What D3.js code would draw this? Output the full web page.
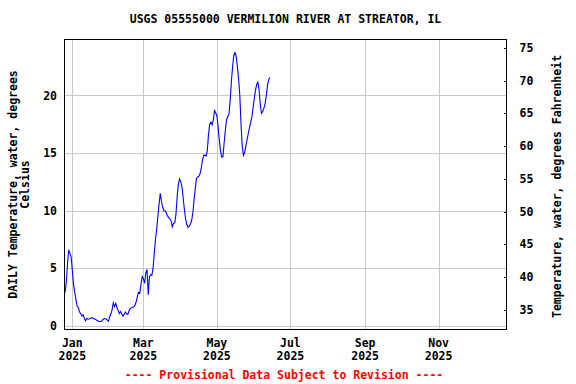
<!DOCTYPE html>
<html>
<head>
<meta charset="utf-8">
<script src="https://cdn.jsdelivr.net/npm/d3@7"></script>
<style>
  body { margin: 0; background: #fff; }
  text { font-family: "DejaVu Sans Mono", "Liberation Mono", monospace; font-weight: bold; font-size: 11.5px; }
</style>
</head>
<body>
<div id="chart"></div>
<script>
// daily water temperature (deg C), first value on 2024-12-26
const startDate = new Date(Date.UTC(2024, 11, 26));
const tempC = [
  2.9, 3.8, 5.4, 6.6, 6.3, 6.0, 4.8, 3.6, 2.9, 2.3,
  1.7, 1.6, 1.2, 1.05, 0.85, 0.97, 0.64, 0.45, 0.65, 0.6,
  0.6, 0.65, 0.73, 0.68, 0.62, 0.58, 0.52, 0.45, 0.38, 0.38,
  0.38, 0.53, 0.6, 0.64, 0.6, 0.5, 0.4, 0.8, 1.05, 1.4,
  2.0, 1.7, 1.95, 1.6, 1.35, 1.08, 1.25, 1.05, 0.85, 1.0,
  1.2, 1.05, 1.0, 1.3, 1.5, 1.57, 1.6, 1.67, 1.8, 2.1,
  2.55, 2.93, 2.85, 3.6, 4.3, 4.1, 3.7, 4.6, 4.9, 2.7,
  4.25, 4.45, 4.4, 5.0, 6.3, 7.5, 8.4, 9.5, 10.6, 11.5,
  10.8, 10.3, 10.0, 10.0, 9.8, 9.55, 9.4, 9.3, 9.1, 8.6,
  8.9, 8.95, 9.7, 11.2, 12.3, 12.75, 12.5, 12.1, 11.1, 10.1,
  9.3, 8.8, 8.55, 8.65, 8.85, 9.15, 9.8, 10.9, 11.9, 12.8,
  12.93, 13.0, 13.2, 13.7, 14.4, 14.8, 14.82, 14.75, 15.2, 16.6,
  17.5, 17.68, 17.45, 17.86, 18.7, 18.5, 18.2, 17.3, 16.1, 15.2,
  14.65, 14.7, 15.9, 17.0, 17.9, 18.15, 18.4, 19.6, 21.2, 22.5,
  23.45, 23.72, 23.4, 22.5, 21.4, 20.0, 17.5, 15.6, 14.8, 15.05,
  15.6, 16.15, 16.7, 17.2, 17.67, 18.12, 18.9, 19.75, 20.45, 20.95,
  21.15, 20.5, 19.2, 18.45, 18.58, 18.9, 19.3, 20.0, 20.9, 21.39,
  21.56
];

const yTicksC = [0, 5, 10, 15, 20];
const yTicksF = [35, 40, 45, 50, 55, 60, 65, 70, 75];
const xTickMonths = [0, 2, 4, 6, 8, 10]; // Jan, Mar, May, Jul, Sep, Nov 2025

const title = 'USGS 05555000 VERMILION RIVER AT STREATOR, IL';
const leftLabel = ['DAILY Temperature, water, degrees', 'Celsius'];
const rightLabel = 'Temperature, water, degrees Fahrenheit';
const footer = '---- Provisional Data Subject to Revision ----';

const width = 576, height = 384;
const plot = { left: 64.5, right: 506.5, top: 39.5, bottom: 329.5 };

const data = tempC.map((v, i) => ({
  date: d3.utcDay.offset(startDate, i),
  value: v
}));

const x = d3.scaleUtc()
  .domain([new Date(Date.UTC(2024, 11, 25, 12)), new Date(Date.UTC(2025, 11, 27, 8))])
  .range([plot.left, plot.right]);

const y = d3.scaleLinear()
  .domain([-0.31, 24.86])
  .range([plot.bottom, plot.top]);

const yF = d3.scaleLinear()
  .domain([32, 76.27])
  .range([plot.bottom, plot.top]);

const svg = d3.select('#chart')
  .append('svg')
  .attr('width', width)
  .attr('height', height);

const xTicks = xTickMonths.map((m) => new Date(Date.UTC(2025, m, 1)));

// grid
const grid = svg.append('g')
  .attr('stroke', '#c8c8c8')
  .attr('stroke-width', 1)
  .attr('shape-rendering', 'crispEdges');

grid.selectAll('.gy')
  .data(yTicksC)
  .join('line')
  .attr('x1', plot.left)
  .attr('x2', plot.right)
  .attr('y1', (d) => Math.round(y(d)) + 0.5)
  .attr('y2', (d) => Math.round(y(d)) + 0.5);

grid.selectAll('.gx')
  .data(xTicks)
  .join('line')
  .attr('x1', (d) => Math.round(x(d)) + 0.5)
  .attr('x2', (d) => Math.round(x(d)) + 0.5)
  .attr('y1', plot.top)
  .attr('y2', plot.bottom);

// data line
const line = d3.line()
  .x((d) => x(d.date))
  .y((d) => y(d.value));

svg.append('path')
  .datum(data)
  .attr('fill', 'none')
  .attr('stroke', '#0000ff')
  .attr('stroke-width', 1.1)
  .attr('d', line);

// frame
svg.append('rect')
  .attr('x', plot.left)
  .attr('y', plot.top)
  .attr('width', plot.right - plot.left)
  .attr('height', plot.bottom - plot.top)
  .attr('fill', 'none')
  .attr('stroke', '#000')
  .attr('shape-rendering', 'crispEdges');

// left axis labels
svg.append('g')
  .selectAll('text')
  .data(yTicksC)
  .join('text')
  .attr('x', 57)
  .attr('y', (d) => y(d))
  .attr('dy', '0.36em')
  .attr('text-anchor', 'end')
  .text((d) => d);

// right axis with inward ticks
const rightAxis = svg.append('g');
rightAxis.selectAll('line')
  .data(yTicksF)
  .join('line')
  .attr('x1', plot.right - 3)
  .attr('x2', plot.right)
  .attr('y1', (d) => Math.round(yF(d)) + 0.5)
  .attr('y2', (d) => Math.round(yF(d)) + 0.5)
  .attr('stroke', '#000')
  .attr('shape-rendering', 'crispEdges');
rightAxis.selectAll('text')
  .data(yTicksF)
  .join('text')
  .attr('x', 519.5)
  .attr('y', (d) => yF(d))
  .attr('dy', '0.36em')
  .text((d) => d);

// bottom labels
const xl = svg.append('g').attr('text-anchor', 'middle');
xl.selectAll('.m')
  .data(xTicks)
  .join('text')
  .attr('x', (d) => x(d))
  .attr('y', 346.5)
  .text((d) => d3.utcFormat('%b')(d));
xl.selectAll('.yr')
  .data(xTicks)
  .join('text')
  .attr('x', (d) => x(d))
  .attr('y', 359.5)
  .text((d) => d3.utcFormat('%Y')(d));

// title
svg.append('text')
  .attr('x', 285.5)
  .attr('y', 23)
  .attr('text-anchor', 'middle')
  .text(title);

// axis titles
const midY = (plot.top + plot.bottom) / 2;
svg.append('text')
  .attr('transform', `translate(16.5,${midY}) rotate(-90)`)
  .attr('text-anchor', 'middle')
  .text(leftLabel[0]);
svg.append('text')
  .attr('transform', `translate(29,${midY}) rotate(-90)`)
  .attr('text-anchor', 'middle')
  .text(leftLabel[1]);
svg.append('text')
  .attr('transform', `translate(561,${midY + 2}) rotate(-90)`)
  .attr('text-anchor', 'middle')
  .text(rightLabel);

// footer
svg.append('text')
  .attr('x', 284)
  .attr('y', 379)
  .attr('text-anchor', 'middle')
  .attr('fill', '#ff0000')
  .text(footer);
</script>
</body>
</html>
